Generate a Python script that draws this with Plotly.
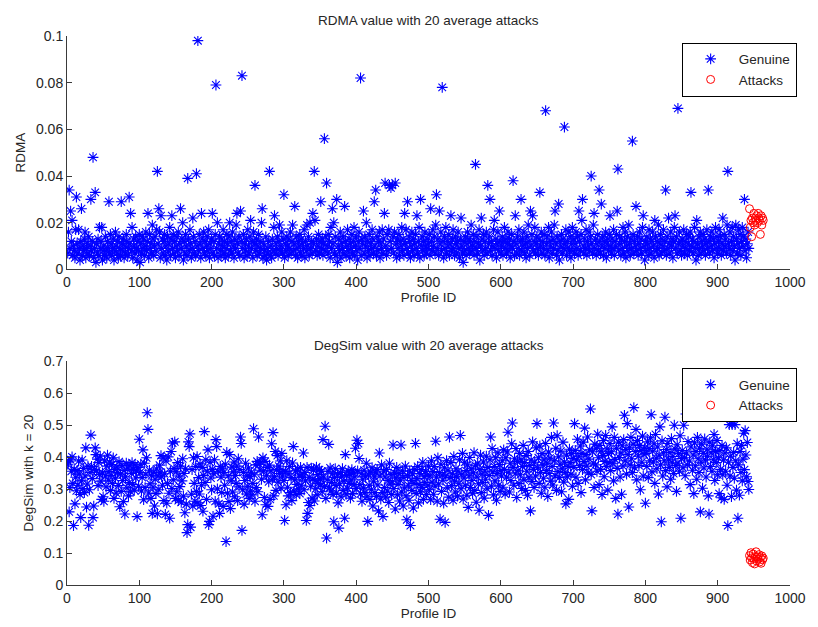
import plotly.graph_objects as go

# ---------------- Data ---------------------------------------------------
N_GENUINE = 943          # genuine profiles are IDs 1..943, attacks follow

# RDMA value per genuine profile, in blocks of 100 profile IDs
rdma_001_100 = [
    0.007, 0.016, 0.034, 0.009, 0.025, 0.012, 0.021, 0.006, 0.010, 0.008,
    0.005, 0.017, 0.031, 0.011, 0.007, 0.017, 0.009, 0.004, 0.012, 0.026,
    0.006, 0.010, 0.008, 0.013, 0.016, 0.005, 0.009, 0.011, 0.007, 0.014,
    0.006, 0.010, 0.030, 0.008, 0.012, 0.048, 0.005, 0.009, 0.033, 0.003,
    0.011, 0.007, 0.013, 0.006, 0.018, 0.009, 0.012, 0.018, 0.004, 0.008,
    0.010, 0.006, 0.014, 0.008, 0.005, 0.012, 0.009, 0.029, 0.007, 0.015,
    0.011, 0.006, 0.009, 0.013, 0.004, 0.008, 0.016, 0.010, 0.007, 0.012,
    0.005, 0.014, 0.009, 0.006, 0.029, 0.011, 0.008, 0.013, 0.005, 0.010,
    0.007, 0.015, 0.012, 0.006, 0.009, 0.031, 0.011, 0.024, 0.008, 0.018,
    0.005, 0.013, 0.010, 0.007, 0.014, 0.009, 0.004, 0.012, 0.008, 0.015,
]
rdma_101_200 = [
    0.003, 0.011, 0.007, 0.014, 0.009, 0.013, 0.006, 0.010, 0.016, 0.008,
    0.012, 0.024, 0.005, 0.015, 0.009, 0.011, 0.007, 0.019, 0.013, 0.006,
    0.010, 0.014, 0.008, 0.017, 0.042, 0.011, 0.026, 0.016, 0.005, 0.023,
    0.009, 0.013, 0.007, 0.012, 0.015, 0.006, 0.010, 0.004, 0.014, 0.008,
    0.011, 0.018, 0.006, 0.013, 0.023, 0.009, 0.015, 0.007, 0.012, 0.005,
    0.010, 0.014, 0.008, 0.016, 0.006, 0.011, 0.026, 0.009, 0.013, 0.020,
    0.004, 0.012, 0.007, 0.015, 0.010, 0.006, 0.039, 0.013, 0.008, 0.017,
    0.011, 0.005, 0.009, 0.022, 0.014, 0.007, 0.012, 0.006, 0.041, 0.010,
    0.098, 0.008, 0.015, 0.011, 0.005, 0.024, 0.013, 0.009, 0.016, 0.007,
    0.012, 0.006, 0.010, 0.014, 0.008, 0.017, 0.005, 0.011, 0.009, 0.013,
]
rdma_201_300 = [
    0.024, 0.007, 0.012, 0.006, 0.015, 0.079, 0.009, 0.020, 0.005, 0.011,
    0.014, 0.008, 0.006, 0.013, 0.010, 0.017, 0.007, 0.012, 0.005, 0.009,
    0.015, 0.011, 0.006, 0.014, 0.020, 0.008, 0.012, 0.007, 0.016, 0.010,
    0.005, 0.013, 0.009, 0.019, 0.024, 0.011, 0.007, 0.014, 0.006, 0.025,
    0.012, 0.083, 0.009, 0.015, 0.005, 0.011, 0.008, 0.013, 0.006, 0.017,
    0.010, 0.007, 0.014, 0.021, 0.009, 0.012, 0.005, 0.016, 0.011, 0.036,
    0.008, 0.013, 0.006, 0.010, 0.015, 0.007, 0.012, 0.009, 0.020, 0.026,
    0.005, 0.011, 0.008, 0.006, 0.014, 0.004, 0.009, 0.007, 0.012, 0.042,
    0.006, 0.010, 0.005, 0.013, 0.008, 0.018, 0.023, 0.007, 0.011, 0.009,
    0.014, 0.006, 0.012, 0.019, 0.008, 0.010, 0.016, 0.007, 0.013, 0.032,
]
rdma_301_400 = [
    0.005, 0.011, 0.008, 0.014, 0.010, 0.006, 0.013, 0.009, 0.016, 0.007,
    0.012, 0.019, 0.008, 0.011, 0.027, 0.006, 0.014, 0.009, 0.005, 0.012,
    0.010, 0.015, 0.007, 0.013, 0.006, 0.011, 0.009, 0.017, 0.005, 0.012,
    0.008, 0.019, 0.010, 0.014, 0.006, 0.020, 0.009, 0.012, 0.007, 0.024,
    0.011, 0.042, 0.021, 0.008, 0.013, 0.006, 0.010, 0.015, 0.007, 0.012,
    0.029, 0.009, 0.013, 0.006, 0.011, 0.056, 0.008, 0.014, 0.037, 0.010,
    0.007, 0.015, 0.012, 0.005, 0.018, 0.009, 0.026, 0.011, 0.020, 0.007,
    0.014, 0.006, 0.030, 0.003, 0.010, 0.013, 0.008, 0.016, 0.005, 0.011,
    0.009, 0.014, 0.007, 0.027, 0.012, 0.006, 0.010, 0.017, 0.008, 0.013,
    0.005, 0.011, 0.009, 0.015, 0.007, 0.012, 0.018, 0.006, 0.010, 0.014,
]
rdma_401_500 = [
    0.008, 0.004, 0.012, 0.016, 0.009, 0.082, 0.006, 0.013, 0.011, 0.025,
    0.007, 0.014, 0.010, 0.020, 0.005, 0.012, 0.008, 0.015, 0.006, 0.011,
    0.009, 0.017, 0.013, 0.007, 0.029, 0.010, 0.034, 0.006, 0.014, 0.008,
    0.012, 0.016, 0.005, 0.011, 0.009, 0.017, 0.007, 0.013, 0.024, 0.037,
    0.010, 0.006, 0.015, 0.008, 0.017, 0.036, 0.012, 0.035, 0.009, 0.036,
    0.014, 0.007, 0.016, 0.037, 0.011, 0.005, 0.013, 0.009, 0.015, 0.006,
    0.012, 0.010, 0.018, 0.008, 0.013, 0.006, 0.024, 0.011, 0.017, 0.009,
    0.029, 0.007, 0.014, 0.012, 0.005, 0.010, 0.016, 0.008, 0.013, 0.006,
    0.011, 0.015, 0.009, 0.023, 0.007, 0.012, 0.018, 0.005, 0.030, 0.010,
    0.014, 0.008, 0.012, 0.006, 0.016, 0.010, 0.007, 0.013, 0.009, 0.011,
]
rdma_501_600 = [
    0.015, 0.006, 0.026, 0.012, 0.008, 0.017, 0.010, 0.014, 0.007, 0.019,
    0.032, 0.009, 0.013, 0.006, 0.025, 0.011, 0.016, 0.008, 0.078, 0.012,
    0.005, 0.014, 0.009, 0.018, 0.007, 0.012, 0.010, 0.015, 0.006, 0.011,
    0.023, 0.008, 0.013, 0.017, 0.009, 0.006, 0.014, 0.011, 0.007, 0.012,
    0.016, 0.009, 0.005, 0.013, 0.022, 0.010, 0.007, 0.003, 0.012, 0.008,
    0.014, 0.006, 0.011, 0.016, 0.009, 0.013, 0.007, 0.012, 0.019, 0.008,
    0.010, 0.015, 0.006, 0.012, 0.045, 0.009, 0.014, 0.007, 0.011, 0.017,
    0.004, 0.010, 0.022, 0.013, 0.008, 0.015, 0.006, 0.012, 0.009, 0.016,
    0.007, 0.036, 0.011, 0.014, 0.030, 0.008, 0.012, 0.006, 0.010, 0.017,
    0.021, 0.009, 0.013, 0.005, 0.011, 0.016, 0.008, 0.025, 0.012, 0.007,
]
rdma_601_700 = [
    0.010, 0.014, 0.006, 0.012, 0.018, 0.009, 0.013, 0.007, 0.011, 0.016,
    0.008, 0.013, 0.005, 0.010, 0.015, 0.009, 0.038, 0.012, 0.006, 0.023,
    0.011, 0.007, 0.014, 0.009, 0.017, 0.006, 0.012, 0.030, 0.008, 0.013,
    0.010, 0.016, 0.007, 0.011, 0.005, 0.014, 0.009, 0.019, 0.012, 0.006,
    0.025, 0.010, 0.015, 0.023, 0.008, 0.012, 0.018, 0.007, 0.011, 0.014,
    0.009, 0.006, 0.013, 0.033, 0.010, 0.016, 0.007, 0.012, 0.009, 0.015,
    0.006, 0.068, 0.011, 0.014, 0.008, 0.018, 0.005, 0.012, 0.010, 0.016,
    0.007, 0.013, 0.009, 0.019, 0.025, 0.011, 0.006, 0.014, 0.008, 0.028,
    0.004, 0.012, 0.010, 0.015, 0.007, 0.013, 0.009, 0.061, 0.011, 0.017,
    0.006, 0.012, 0.009, 0.016, 0.008, 0.014, 0.005, 0.011, 0.018, 0.008,
]
rdma_701_800 = [
    0.013, 0.007, 0.011, 0.016, 0.009, 0.014, 0.006, 0.025, 0.012, 0.008,
    0.015, 0.021, 0.030, 0.010, 0.007, 0.013, 0.009, 0.017, 0.006, 0.012,
    0.010, 0.016, 0.008, 0.014, 0.040, 0.011, 0.007, 0.019, 0.024, 0.009,
    0.013, 0.006, 0.011, 0.015, 0.008, 0.034, 0.012, 0.007, 0.028, 0.010,
    0.014, 0.006, 0.012, 0.009, 0.016, 0.005, 0.011, 0.013, 0.008, 0.015,
    0.023, 0.010, 0.007, 0.013, 0.009, 0.017, 0.006, 0.012, 0.010, 0.015,
    0.025, 0.043, 0.008, 0.014, 0.011, 0.006, 0.013, 0.009, 0.018, 0.007,
    0.012, 0.016, 0.005, 0.010, 0.014, 0.008, 0.019, 0.011, 0.006, 0.013,
    0.009, 0.055, 0.015, 0.007, 0.012, 0.010, 0.027, 0.008, 0.014, 0.006,
    0.011, 0.016, 0.009, 0.013, 0.007, 0.018, 0.023, 0.010, 0.004, 0.012,
]
rdma_801_900 = [
    0.008, 0.014, 0.011, 0.006, 0.017, 0.009, 0.013, 0.007, 0.012, 0.016,
    0.010, 0.005, 0.021, 0.014, 0.008, 0.012, 0.009, 0.019, 0.006, 0.011,
    0.015, 0.007, 0.013, 0.010, 0.017, 0.008, 0.012, 0.034, 0.006, 0.014,
    0.009, 0.022, 0.011, 0.007, 0.016, 0.010, 0.013, 0.005, 0.012, 0.018,
    0.023, 0.009, 0.014, 0.007, 0.069, 0.011, 0.016, 0.008, 0.012, 0.006,
    0.013, 0.010, 0.017, 0.007, 0.012, 0.009, 0.015, 0.006, 0.011, 0.014,
    0.008, 0.016, 0.033, 0.010, 0.013, 0.007, 0.012, 0.018, 0.009, 0.004,
    0.021, 0.011, 0.006, 0.014, 0.009, 0.016, 0.007, 0.012, 0.010, 0.015,
    0.008, 0.013, 0.006, 0.011, 0.017, 0.009, 0.034, 0.012, 0.007, 0.014,
    0.010, 0.016, 0.008, 0.013, 0.005, 0.011, 0.018, 0.009, 0.014, 0.007,
]
rdma_901_943 = [
    0.012, 0.017, 0.009, 0.014, 0.006, 0.011, 0.022, 0.008, 0.015, 0.010,
    0.013, 0.007, 0.019, 0.042, 0.011, 0.009, 0.016, 0.006, 0.012, 0.018,
    0.008, 0.014, 0.010, 0.004, 0.019, 0.013, 0.007, 0.011, 0.017, 0.009,
    0.015, 0.006, 0.012, 0.018, 0.010, 0.014, 0.030, 0.008, 0.013, 0.005,
    0.011, 0.016, 0.009,
]
rdma_attacks = [
    0.026, 0.018, 0.021, 0.014, 0.022, 0.020, 0.024, 0.019, 0.022, 0.021,
    0.023, 0.020, 0.024, 0.022, 0.021, 0.015, 0.023, 0.019, 0.022, 0.021,
]

# DegSim (k = 20) value per genuine profile, in blocks of 100 profile IDs
degsim_001_100 = [
    0.378, 0.385, 0.229, 0.305, 0.392, 0.356, 0.401, 0.318, 0.186, 0.362,
    0.254, 0.337, 0.295, 0.358, 0.312, 0.388, 0.347, 0.283, 0.211, 0.326,
    0.391, 0.302, 0.365, 0.289, 0.341, 0.429, 0.244, 0.316, 0.372, 0.187,
    0.298, 0.352, 0.469, 0.371, 0.333, 0.211, 0.247, 0.362, 0.429, 0.408,
    0.357, 0.394, 0.311, 0.383, 0.346, 0.403, 0.325, 0.268, 0.351, 0.276,
    0.262, 0.389, 0.341, 0.307, 0.372, 0.406, 0.328, 0.355, 0.384, 0.296,
    0.343, 0.377, 0.318, 0.398, 0.271, 0.361, 0.334, 0.288, 0.369, 0.352,
    0.311, 0.386, 0.245, 0.347, 0.293, 0.374, 0.327, 0.261, 0.358, 0.222,
    0.339, 0.381, 0.304, 0.366, 0.279, 0.321, 0.373, 0.292, 0.349, 0.383,
    0.315, 0.362, 0.297, 0.376, 0.335, 0.357, 0.214, 0.368, 0.309, 0.456,
]
degsim_101_200 = [
    0.352, 0.378, 0.294, 0.336, 0.423, 0.267, 0.381, 0.305, 0.347, 0.398,
    0.539, 0.487, 0.288, 0.359, 0.317, 0.271, 0.342, 0.224, 0.306, 0.353,
    0.247, 0.331, 0.286, 0.363, 0.223, 0.341, 0.298, 0.375, 0.353, 0.405,
    0.339, 0.312, 0.397, 0.264, 0.348, 0.221, 0.388, 0.256, 0.318, 0.401,
    0.287, 0.209, 0.356, 0.418, 0.302, 0.444, 0.329, 0.365, 0.448, 0.271,
    0.354, 0.292, 0.383, 0.264, 0.341, 0.308, 0.372, 0.259, 0.326, 0.395,
    0.278, 0.349, 0.226, 0.364, 0.253, 0.164, 0.189, 0.448, 0.433, 0.473,
    0.181, 0.284, 0.361, 0.247, 0.398, 0.318, 0.262, 0.371, 0.293, 0.402,
    0.257, 0.336, 0.285, 0.379, 0.249, 0.312, 0.368, 0.231, 0.343, 0.480,
    0.321, 0.392, 0.268, 0.356, 0.423, 0.189, 0.199, 0.384, 0.335, 0.298,
]
degsim_201_300 = [
    0.362, 0.215, 0.348, 0.392, 0.262, 0.455, 0.433, 0.301, 0.356, 0.254,
    0.224, 0.371, 0.337, 0.289, 0.364, 0.246, 0.352, 0.312, 0.378, 0.136,
    0.415, 0.287, 0.342, 0.261, 0.408, 0.239, 0.326, 0.369, 0.291, 0.354,
    0.385, 0.276, 0.343, 0.318, 0.372, 0.264, 0.395, 0.307, 0.361, 0.463,
    0.443, 0.171, 0.298, 0.352, 0.253, 0.327, 0.381, 0.285, 0.342, 0.309,
    0.366, 0.271, 0.339, 0.294, 0.353, 0.282, 0.318, 0.489, 0.345, 0.262,
    0.376, 0.305, 0.387, 0.292, 0.463, 0.378, 0.359, 0.384, 0.331, 0.220,
    0.398, 0.357, 0.274, 0.387, 0.251, 0.342, 0.368, 0.246, 0.323, 0.375,
    0.268, 0.357, 0.442, 0.331, 0.477, 0.279, 0.339, 0.418, 0.296, 0.361,
    0.405, 0.322, 0.372, 0.349, 0.388, 0.303, 0.412, 0.341, 0.357, 0.327,
]
degsim_301_400 = [
    0.202, 0.355, 0.251, 0.389, 0.306, 0.279, 0.348, 0.371, 0.289, 0.336,
    0.264, 0.382, 0.433, 0.294, 0.329, 0.357, 0.283, 0.315, 0.363, 0.301,
    0.341, 0.286, 0.368, 0.312, 0.345, 0.337, 0.413, 0.298, 0.352, 0.326,
    0.202, 0.368, 0.224, 0.258, 0.337, 0.249, 0.309, 0.366, 0.272, 0.331,
    0.359, 0.263, 0.327, 0.301, 0.369, 0.282, 0.346, 0.318, 0.361, 0.332,
    0.313, 0.356, 0.292, 0.455, 0.338, 0.308, 0.497, 0.271, 0.147, 0.329,
    0.356, 0.440, 0.303, 0.366, 0.294, 0.321, 0.348, 0.283, 0.198, 0.336,
    0.364, 0.311, 0.288, 0.345, 0.257, 0.178, 0.317, 0.352, 0.276, 0.339,
    0.364, 0.296, 0.325, 0.209, 0.408, 0.284, 0.343, 0.303, 0.357, 0.318,
    0.347, 0.272, 0.329, 0.361, 0.286, 0.351, 0.314, 0.338, 0.428, 0.302,
]
degsim_401_500 = [
    0.453, 0.357, 0.443, 0.396, 0.314, 0.285, 0.348, 0.262, 0.331, 0.304,
    0.359, 0.289, 0.339, 0.381, 0.276, 0.199, 0.345, 0.312, 0.268, 0.354,
    0.298, 0.367, 0.247, 0.323, 0.338, 0.289, 0.351, 0.277, 0.361, 0.313,
    0.232, 0.413, 0.341, 0.269, 0.376, 0.289, 0.214, 0.356, 0.305, 0.338,
    0.275, 0.362, 0.294, 0.327, 0.258, 0.381, 0.316, 0.346, 0.283, 0.323,
    0.438, 0.302, 0.351, 0.238, 0.334, 0.368, 0.282, 0.315, 0.349, 0.263,
    0.328, 0.438, 0.291, 0.357, 0.247, 0.336, 0.304, 0.372, 0.279, 0.204,
    0.343, 0.312, 0.265, 0.356, 0.186, 0.327, 0.296, 0.348, 0.241, 0.318,
    0.362, 0.443, 0.286, 0.333, 0.371, 0.257, 0.314, 0.349, 0.292, 0.361,
    0.305, 0.384, 0.268, 0.339, 0.321, 0.356, 0.283, 0.344, 0.312, 0.372,
]
degsim_501_600 = [
    0.298, 0.341, 0.267, 0.389, 0.322, 0.355, 0.284, 0.371, 0.309, 0.450,
    0.337, 0.262, 0.398, 0.316, 0.352, 0.206, 0.378, 0.293, 0.344, 0.328,
    0.256, 0.367, 0.196, 0.341, 0.389, 0.304, 0.359, 0.275, 0.463, 0.336,
    0.383, 0.311, 0.348, 0.265, 0.402, 0.325, 0.291, 0.364, 0.339, 0.278,
    0.356, 0.317, 0.392, 0.468, 0.301, 0.347, 0.412, 0.269, 0.335, 0.384,
    0.312, 0.358, 0.281, 0.376, 0.243, 0.342, 0.399, 0.305, 0.364, 0.327,
    0.287, 0.351, 0.414, 0.296, 0.373, 0.259, 0.338, 0.381, 0.317, 0.234,
    0.362, 0.406, 0.289, 0.347, 0.321, 0.385, 0.272, 0.356, 0.331, 0.403,
    0.301, 0.368, 0.218, 0.343, 0.392, 0.463, 0.309, 0.427, 0.354, 0.282,
    0.371, 0.326, 0.398, 0.265, 0.349, 0.414, 0.312, 0.377, 0.293, 0.358,
]
degsim_601_700 = [
    0.341, 0.389, 0.306, 0.423, 0.362, 0.285, 0.398, 0.337, 0.416, 0.478,
    0.353, 0.291, 0.381, 0.327, 0.442, 0.507, 0.368, 0.312, 0.395, 0.348,
    0.427, 0.274, 0.386, 0.359, 0.318, 0.412, 0.345, 0.392, 0.302, 0.371,
    0.437, 0.329, 0.383, 0.296, 0.405, 0.356, 0.281, 0.418, 0.337, 0.374,
    0.232, 0.391, 0.324, 0.448, 0.362, 0.305, 0.384, 0.341, 0.429, 0.505,
    0.367, 0.398, 0.318, 0.435, 0.352, 0.287, 0.411, 0.376, 0.334, 0.392,
    0.306, 0.443, 0.358, 0.381, 0.277, 0.416, 0.349, 0.397, 0.325, 0.462,
    0.371, 0.313, 0.507, 0.389, 0.342, 0.428, 0.296, 0.467, 0.355, 0.401,
    0.336, 0.378, 0.419, 0.292, 0.364, 0.447, 0.322, 0.385, 0.352, 0.254,
    0.406, 0.339, 0.371, 0.268, 0.425, 0.383, 0.347, 0.412, 0.309, 0.396,
]
degsim_701_800 = [
    0.368, 0.505, 0.421, 0.337, 0.392, 0.456, 0.318, 0.403, 0.374, 0.435,
    0.289, 0.412, 0.361, 0.447, 0.386, 0.491, 0.329, 0.408, 0.372, 0.463,
    0.351, 0.394, 0.423, 0.551, 0.346, 0.232, 0.417, 0.381, 0.305, 0.441,
    0.376, 0.428, 0.356, 0.472, 0.398, 0.314, 0.437, 0.362, 0.419, 0.283,
    0.405, 0.452, 0.339, 0.387, 0.468, 0.371, 0.426, 0.297, 0.411, 0.383,
    0.443, 0.358, 0.417, 0.495, 0.381, 0.326, 0.462, 0.393, 0.271, 0.428,
    0.365, 0.222, 0.447, 0.399, 0.338, 0.413, 0.284, 0.436, 0.372, 0.455,
    0.531, 0.389, 0.424, 0.347, 0.505, 0.408, 0.244, 0.431, 0.376, 0.462,
    0.395, 0.352, 0.441, 0.555, 0.367, 0.418, 0.487, 0.329, 0.452, 0.403,
    0.374, 0.437, 0.298, 0.421, 0.384, 0.466, 0.341, 0.409, 0.429, 0.256,
]
degsim_801_900 = [
    0.412, 0.371, 0.448, 0.336, 0.427, 0.389, 0.461, 0.533, 0.354, 0.419,
    0.385, 0.442, 0.318, 0.471, 0.397, 0.364, 0.432, 0.285, 0.406, 0.495,
    0.376, 0.198, 0.451, 0.341, 0.413, 0.389, 0.525, 0.358, 0.424, 0.307,
    0.443, 0.392, 0.368, 0.415, 0.331, 0.458, 0.384, 0.402, 0.349, 0.500,
    0.426, 0.374, 0.293, 0.439, 0.381, 0.411, 0.356, 0.467, 0.209, 0.396,
    0.421, 0.367, 0.500, 0.398, 0.342, 0.535, 0.413, 0.376, 0.449, 0.535,
    0.388, 0.314, 0.432, 0.535, 0.359, 0.407, 0.286, 0.445, 0.373, 0.418,
    0.331, 0.462, 0.395, 0.352, 0.428, 0.229, 0.384, 0.441, 0.303, 0.412,
    0.366, 0.457, 0.391, 0.338, 0.425, 0.403, 0.279, 0.222, 0.447, 0.371,
    0.414, 0.356, 0.436, 0.392, 0.471, 0.327, 0.418, 0.383, 0.452, 0.345,
]
degsim_901_943 = [
    0.398, 0.286, 0.421, 0.362, 0.273, 0.437, 0.345, 0.391, 0.268, 0.413,
    0.356, 0.429, 0.312, 0.186, 0.384, 0.502, 0.341, 0.403, 0.277, 0.502,
    0.368, 0.415, 0.334, 0.502, 0.389, 0.297, 0.442, 0.209, 0.376, 0.281,
    0.418, 0.352, 0.437, 0.326, 0.394, 0.475, 0.361, 0.483, 0.407, 0.339,
    0.446, 0.324, 0.299,
]
degsim_attacks = [
    0.092, 0.078, 0.101, 0.085, 0.070, 0.097, 0.083, 0.066, 0.089, 0.104,
    0.075, 0.088, 0.081, 0.095, 0.072, 0.086, 0.068, 0.091, 0.079, 0.084,
]

# Axis ticks
x_ticks = [0, 100, 200, 300, 400, 500, 600, 700, 800, 900, 1000]
rdma_ticks = [0, 0.02, 0.04, 0.06, 0.08, 0.1]
rdma_tick_text = ["0", "0.02", "0.04", "0.06", "0.08", "0.1"]
degsim_ticks = [0, 0.1, 0.2, 0.3, 0.4, 0.5, 0.6, 0.7]
degsim_tick_text = ["0", "0.1", "0.2", "0.3", "0.4", "0.5", "0.6", "0.7"]
# ---------------------------------------------------------------------------

rdma_genuine = (rdma_001_100 + rdma_101_200 + rdma_201_300 + rdma_301_400
                + rdma_401_500 + rdma_501_600 + rdma_601_700 + rdma_701_800
                + rdma_801_900 + rdma_901_943)
degsim_genuine = (degsim_001_100 + degsim_101_200 + degsim_201_300
                  + degsim_301_400 + degsim_401_500 + degsim_501_600
                  + degsim_601_700 + degsim_701_800 + degsim_801_900
                  + degsim_901_943)

genuine_ids = list(range(1, N_GENUINE + 1))
attack_ids = list(range(N_GENUINE + 1, N_GENUINE + 1 + len(rdma_attacks)))

FONT = "Liberation Sans, Arial, Helvetica, sans-serif"
TEXT = "#262626"
AXIS = "#3a3a3a"

star = dict(symbol="asterisk-open", size=9, color="blue",
            line=dict(width=1.1, color="blue"))
ring = dict(symbol="circle-open", size=8, color="red",
            line=dict(width=1, color="red"))

fig = go.Figure()

fig.add_trace(go.Scatter(x=genuine_ids, y=rdma_genuine, mode="markers",
                         name="Genuine", marker=star,
                         xaxis="x", yaxis="y", legend="legend"))
fig.add_trace(go.Scatter(x=attack_ids, y=rdma_attacks, mode="markers",
                         name="Attacks", marker=ring,
                         xaxis="x", yaxis="y", legend="legend"))
fig.add_trace(go.Scatter(x=genuine_ids, y=degsim_genuine, mode="markers",
                         name="Genuine", marker=star,
                         xaxis="x2", yaxis="y2", legend="legend2"))
fig.add_trace(go.Scatter(x=attack_ids, y=degsim_attacks, mode="markers",
                         name="Attacks", marker=ring,
                         xaxis="x2", yaxis="y2", legend="legend2"))

axis_common = dict(showline=True, linecolor=AXIS, linewidth=1, mirror=False,
                   ticks="inside", ticklen=5, tickcolor=AXIS, showgrid=False,
                   zeroline=False, tickfont=dict(size=14, color=TEXT))

# Page positions (px in the final 818x627 page, body margin removed below);
# the screenshot comes out ~1.7% smaller, so targets are divided by 0.983.
S = 0.983
M_L, M_R, M_T, M_B = 67, 16, 36, 32
H_PLOT = 627.0 - M_T - M_B
W_PLOT = 818.0 - M_L - M_R
Y_BASE = 627.0 - M_B


def py(y_screen):
    # screen y (px) -> paper y
    return (Y_BASE - y_screen / S) / H_PLOT


top_dom = [py(269), 1.0]
bot_dom = [0.0, py(361)]

legend_box = dict(bgcolor="white", bordercolor="black", borderwidth=1,
                  font=dict(size=13.5, color=TEXT), xanchor="right",
                  yanchor="top", x=(795 / S - M_L) / W_PLOT,
                  tracegroupgap=0, itemwidth=46)

fig.update_layout(
    # start small so the page does not scroll, then grow to the full window
    width=802, height=580, autosize=False,
    margin=dict(l=M_L, r=M_R, t=M_T, b=M_B),
    paper_bgcolor="white", plot_bgcolor="white",
    font=dict(family=FONT, size=13.5, color=TEXT),
    showlegend=True,
    xaxis=dict(axis_common, domain=[0, 1], range=[0, 1000], tickvals=x_ticks,
               anchor="y",
               title=dict(text="Profile ID", standoff=3,
                          font=dict(size=13.5, color=TEXT))),
    yaxis=dict(axis_common, domain=top_dom, range=[0, 0.1],
               tickvals=rdma_ticks, ticktext=rdma_tick_text, anchor="x",
               title=dict(text="RDMA", standoff=7,
                          font=dict(size=13.5, color=TEXT))),
    xaxis2=dict(axis_common, domain=[0, 1], range=[0, 1000],
                tickvals=x_ticks, anchor="y2",
                title=dict(text="Profile ID", standoff=0,
                           font=dict(size=13.5, color=TEXT))),
    yaxis2=dict(axis_common, domain=bot_dom, range=[0, 0.7],
                tickvals=degsim_ticks, ticktext=degsim_tick_text,
                anchor="x2",
                title=dict(text="DegSim with k = 20", standoff=7,
                           font=dict(size=13.5, color=TEXT))),
    legend=dict(legend_box, y=py(42)),
    legend2=dict(legend_box, y=py(368)),
    annotations=[
        dict(text="RDMA value with 20 average attacks", xref="paper",
             yref="paper", x=0.5, y=py(20), xanchor="center",
             yanchor="middle", showarrow=False,
             font=dict(size=13.5, color=TEXT)),
        dict(text="DegSim value with 20 average attacks", xref="paper",
             yref="paper", x=0.5, y=py(345), xanchor="center",
             yanchor="middle", showarrow=False,
             font=dict(size=13.5, color=TEXT)),
    ],
)

grow = """
var gd = document.getElementById('{plot_id}');
document.body.style.margin = '0';
document.body.style.overflow = 'hidden';
gd.style.width = '818px';
gd.style.height = '627px';
Plotly.relayout(gd, {width: 818, height: 627});
"""

fig.write_html("out.html", config={"displayModeBar": False},
               post_script=grow)
